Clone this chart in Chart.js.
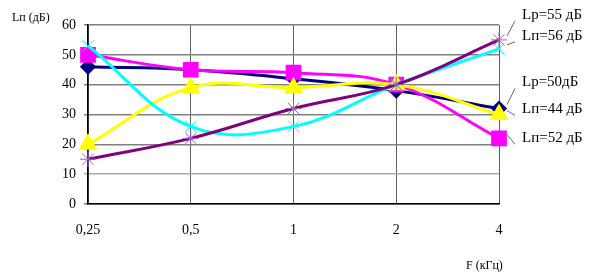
<!DOCTYPE html>
<html lang="ru">
<head>
  <meta charset="UTF-8" />
  <title>Lп (дБ)</title>
  <script src="https://cdn.jsdelivr.net/npm/chart.js"></script>
  <style>
    html, body { margin: 0; padding: 0; background: #fff; }
  </style>
</head>
<body>
  <canvas id="chart" width="600" height="276"></canvas>
  <script>
    const freqLabels = ["0,25", "0,5", "1", "2", "4"];
    const lp50 = [46, 45, 42, 38, 32];
    const ln52 = [50, 45, 44, 40, 22];
    const ln44 = [20, 39, 39, 40, 30];
    const ln56 = [53, 26, 26, 40, 52];
    const lp55 = [15, 22, 32, 40, 55];
    const yTicks = [0, 10, 20, 30, 40, 50, 60];

    const seriesNames = ["Lp=50дБ", "Lп=52 дБ", "Lп=44 дБ", "Lп=56 дБ", "Lp=55 дБ"];
    // где ставить подпись справа (сдвиг по y в пикселях от последней точки)
    const labelShift = [-26, 0, -5, -13, -25];

    const serif = "'Liberation Serif', 'Times New Roman', serif";

    const sideLabels = {
      id: "sideLabels",
      afterDatasetsDraw(chart) {
        const ctx = chart.ctx;
        ctx.save();
        ctx.font = "15px " + serif;
        ctx.textBaseline = "middle";
        ctx.fillStyle = "#000";
        chart.data.datasets.forEach((ds, i) => {
          const pt = chart.getDatasetMeta(i).data[ds.data.length - 1];
          const ty = pt.y + labelShift[i];
          ctx.strokeStyle = "#666";
          ctx.lineWidth = 1;
          ctx.beginPath();
          ctx.moveTo(pt.x + 8, pt.y - 4);
          ctx.lineTo(pt.x + 16, ty + 6);
          ctx.stroke();
          ctx.fillText(seriesNames[i], pt.x + 23, ty);
        });
        // подписи осей
        ctx.font = "12px " + serif;
        ctx.fillText("Lп (дБ)", 12, 18);
        ctx.fillText("F (кГц)", 466, 266);
        ctx.restore();
      }
    };

    new Chart(document.getElementById("chart"), {
      type: "line",
      data: {
        labels: freqLabels,
        datasets: [
          { data: lp50, order: 5, borderColor: "#000080", backgroundColor: "#000080",
            pointStyle: "rectRot", pointRadius: 6, borderWidth: 3 },
          { data: ln52, order: 4, borderColor: "#ff00ff", backgroundColor: "#ff00ff",
            pointStyle: "rect", pointRadius: 9, borderWidth: 3 },
          { data: ln44, order: 3, borderColor: "#ffff00", backgroundColor: "#ffff00",
            pointStyle: "triangle", pointRadius: 8, borderWidth: 3 },
          { data: ln56, order: 2, borderColor: "#00ffff", backgroundColor: "#00ffff",
            pointStyle: "crossRot", pointRadius: 8, pointBorderWidth: 1, borderWidth: 3 },
          { data: lp55, order: 1, borderColor: "#800080", backgroundColor: "#800080",
            pointStyle: "star", pointRadius: 8, pointBorderColor: "#a060c0", pointBorderWidth: 1, borderWidth: 3 }
        ]
      },
      options: {
        responsive: false,
        animation: false,
        devicePixelRatio: 1,
        layout: { padding: { top: 25, right: 101, left: 0, bottom: 0 } },
        elements: { line: { tension: 0.4 } },
        plugins: { legend: { display: false }, tooltip: { enabled: false } },
        scales: {
          x: {
            offset: false,
            grid: { color: "#606060", lineWidth: 1, drawTicks: false },
            border: { color: "#000", width: 1.5 },
            ticks: { color: "#000", padding: 18, font: { family: serif, size: 14 }, maxRotation: 0 },
            afterFit: (s) => { s.height = 72; }
          },
          y: {
            min: 0, max: 60,
            afterBuildTicks: (s) => { s.ticks = yTicks.map(v => ({ value: v })); },
            grid: { color: (c) => (c.tick.value === 10 ? "#aaaaaa" : "#808080"), lineWidth: 1.5, drawTicks: true, tickLength: 4 },
            border: { color: "#000", width: 1.5 },
            ticks: { color: "#000", padding: 8, font: { family: serif, size: 14 } },
            afterFit: (s) => { s.width = 88; }
          }
        }
      },
      plugins: [sideLabels]
    });
  </script>
</body>
</html>
